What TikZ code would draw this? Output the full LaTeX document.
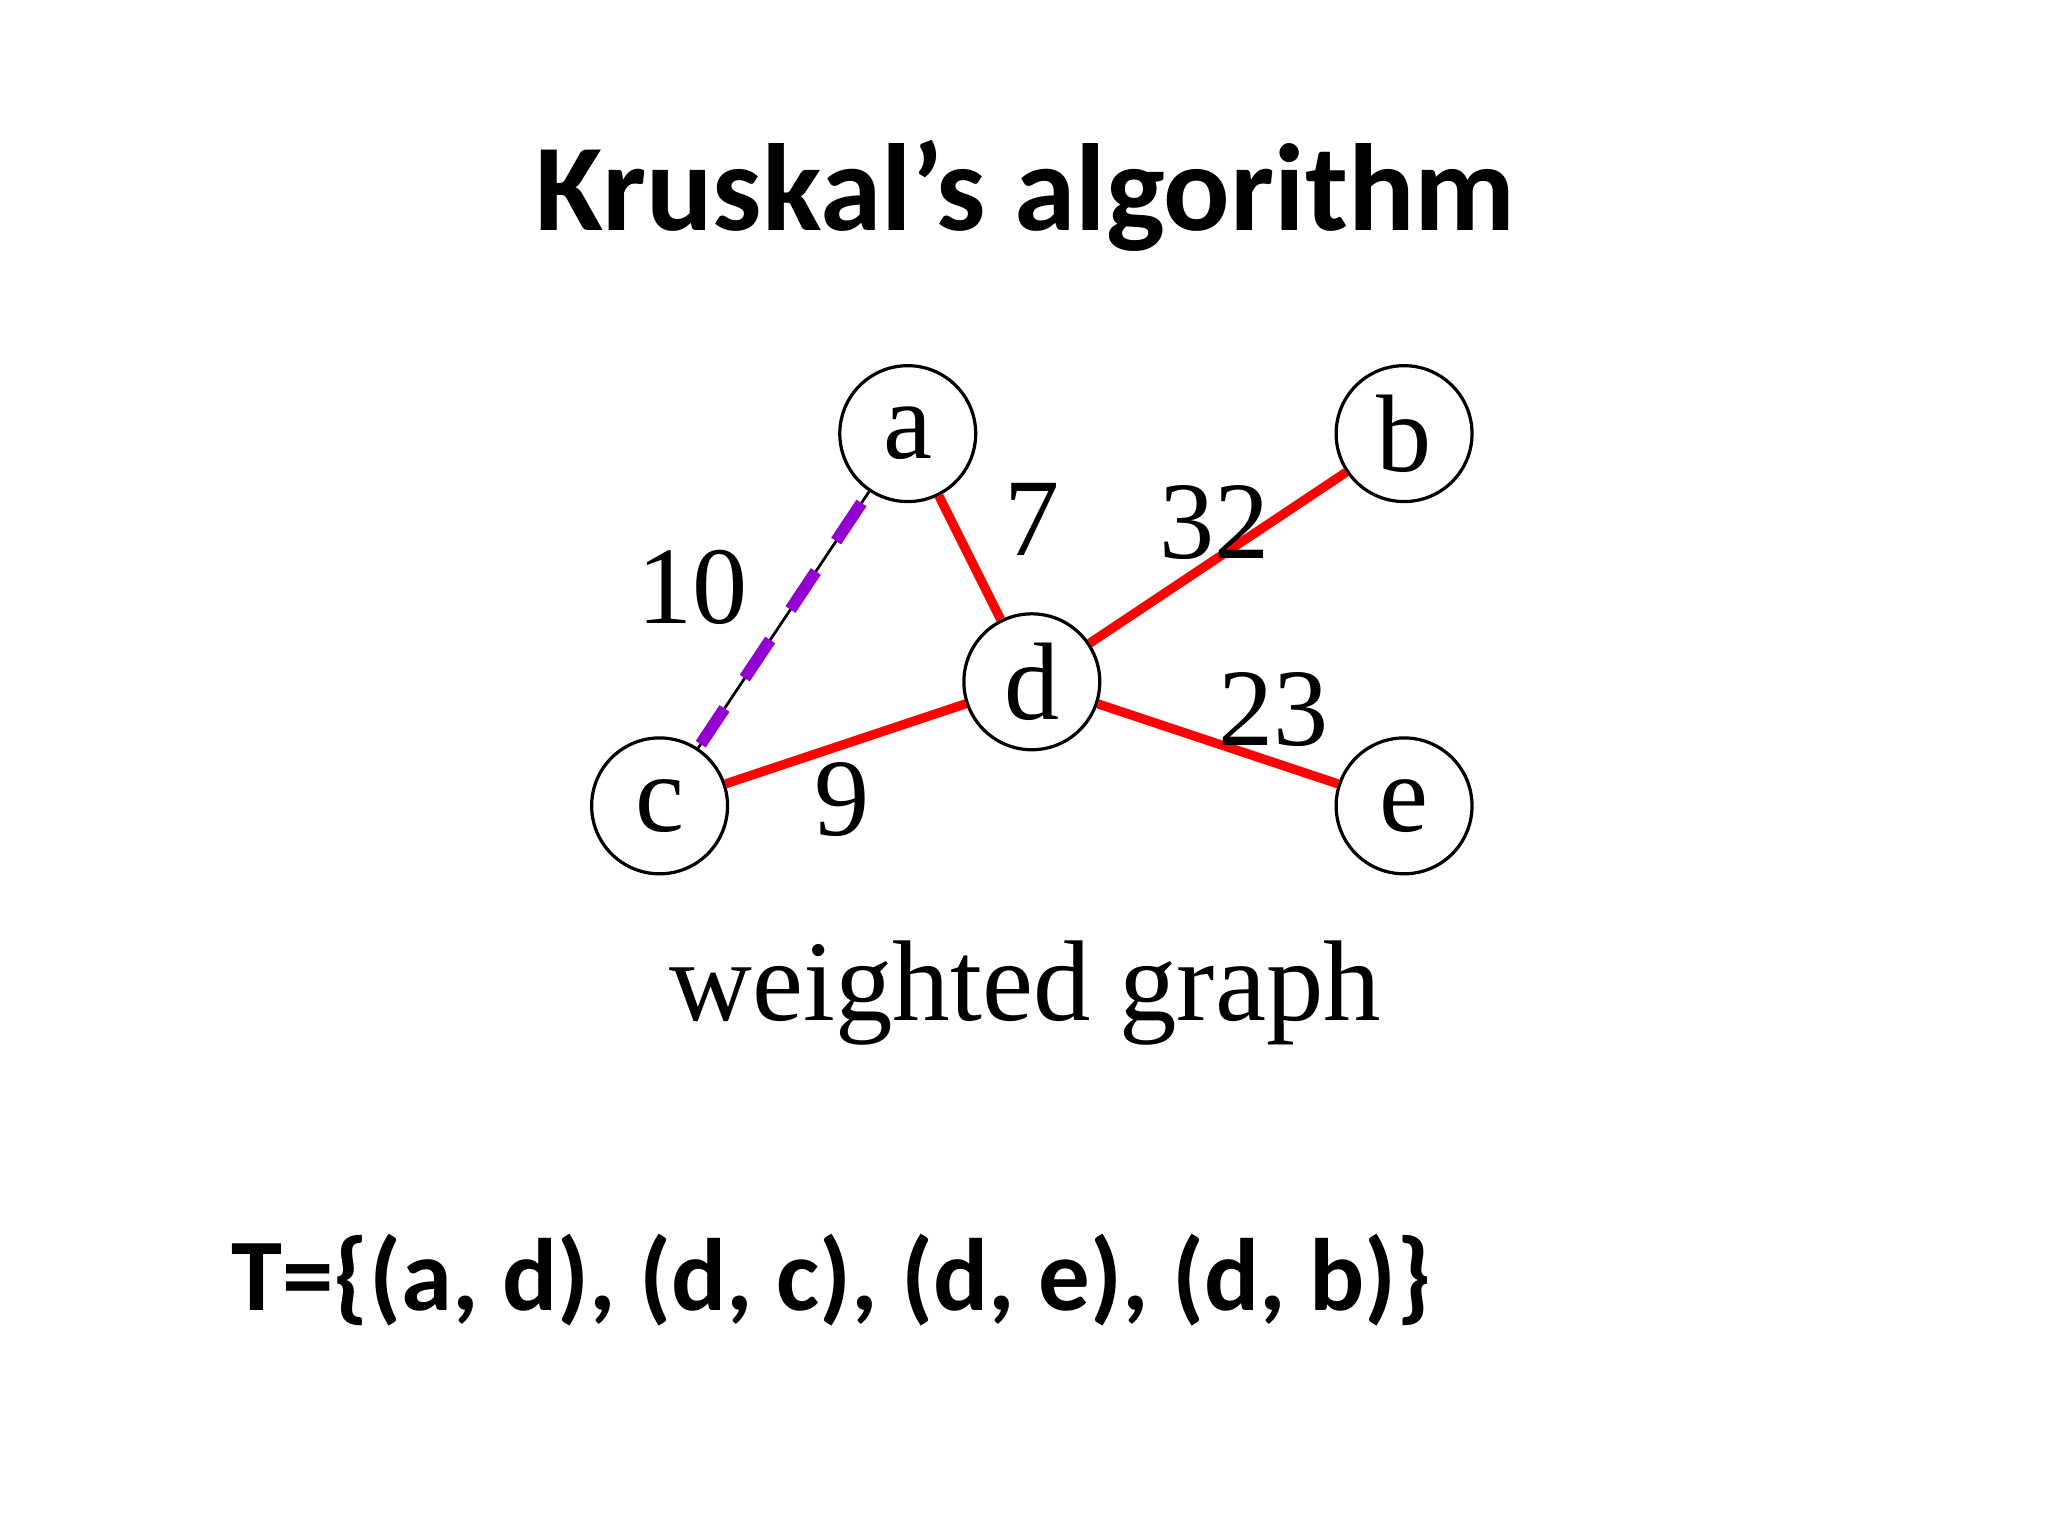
\documentclass[tikz,border=0pt]{standalone}
\usepackage{fontspec}
\setmainfont{Liberation Serif}
\newfontfamily\calfont{Carlito}
\definecolor{dviolet}{RGB}{148,0,211}
\begin{document}
\begin{tikzpicture}[x=0.01cm,y=-0.01cm,
  vert/.style={circle,draw,line width=0.7pt,minimum size=1.04cm,inner sep=0pt,font=\fontsize{24}{24}\selectfont},
  wt/.style={font=\fontsize{24}{24}\selectfont},
  tree/.style={red,line width=2pt},
  cand/.style={draw=dviolet,line width=2.6pt,dash pattern=on 0.35cm off 0.28cm,shorten <=3pt,shorten >=1pt}]
\useasboundingbox (0,0) rectangle (1568,1176);
\node[font=\calfont\bfseries\fontsize{27}{27}\selectfont] (title) at (785,150) {Kruskal’s algorithm};
\node[vert] (a) at (695,332) {a};
\node[vert] (b) at (1075,332) {b};
\node[vert] (c) at (505,617) {c};
\node[vert] (d) at (790,522) {d};
\node[vert] (e) at (1075,617) {e};
\draw[line width=0.6pt] (a) -- (c);
\draw[cand] (a) -- (c);
\draw[tree] (a) -- (d);
\draw[tree] (d) -- (b);
\draw[tree] (d) -- (c);
\draw[tree] (d) -- (e);
\node[wt] (w10) at (530,450) {10};
\node[wt] (w7) at (790,398) {7};
\node[wt] (w32) at (930,400) {32};
\node[wt] (w23) at (975,543) {23};
\node[wt] (w9) at (645,612) {9};
\node[font=\fontsize{25}{25}\selectfont] (cap) at (785,760) {weighted graph};
\node[anchor=west,font=\calfont\bfseries\fontsize{22.4}{22.4}\selectfont] (T) at (165,980) {T=\{(a, d), (d, c), (d, e), (d, b)\}};
\end{tikzpicture}
\end{document}
